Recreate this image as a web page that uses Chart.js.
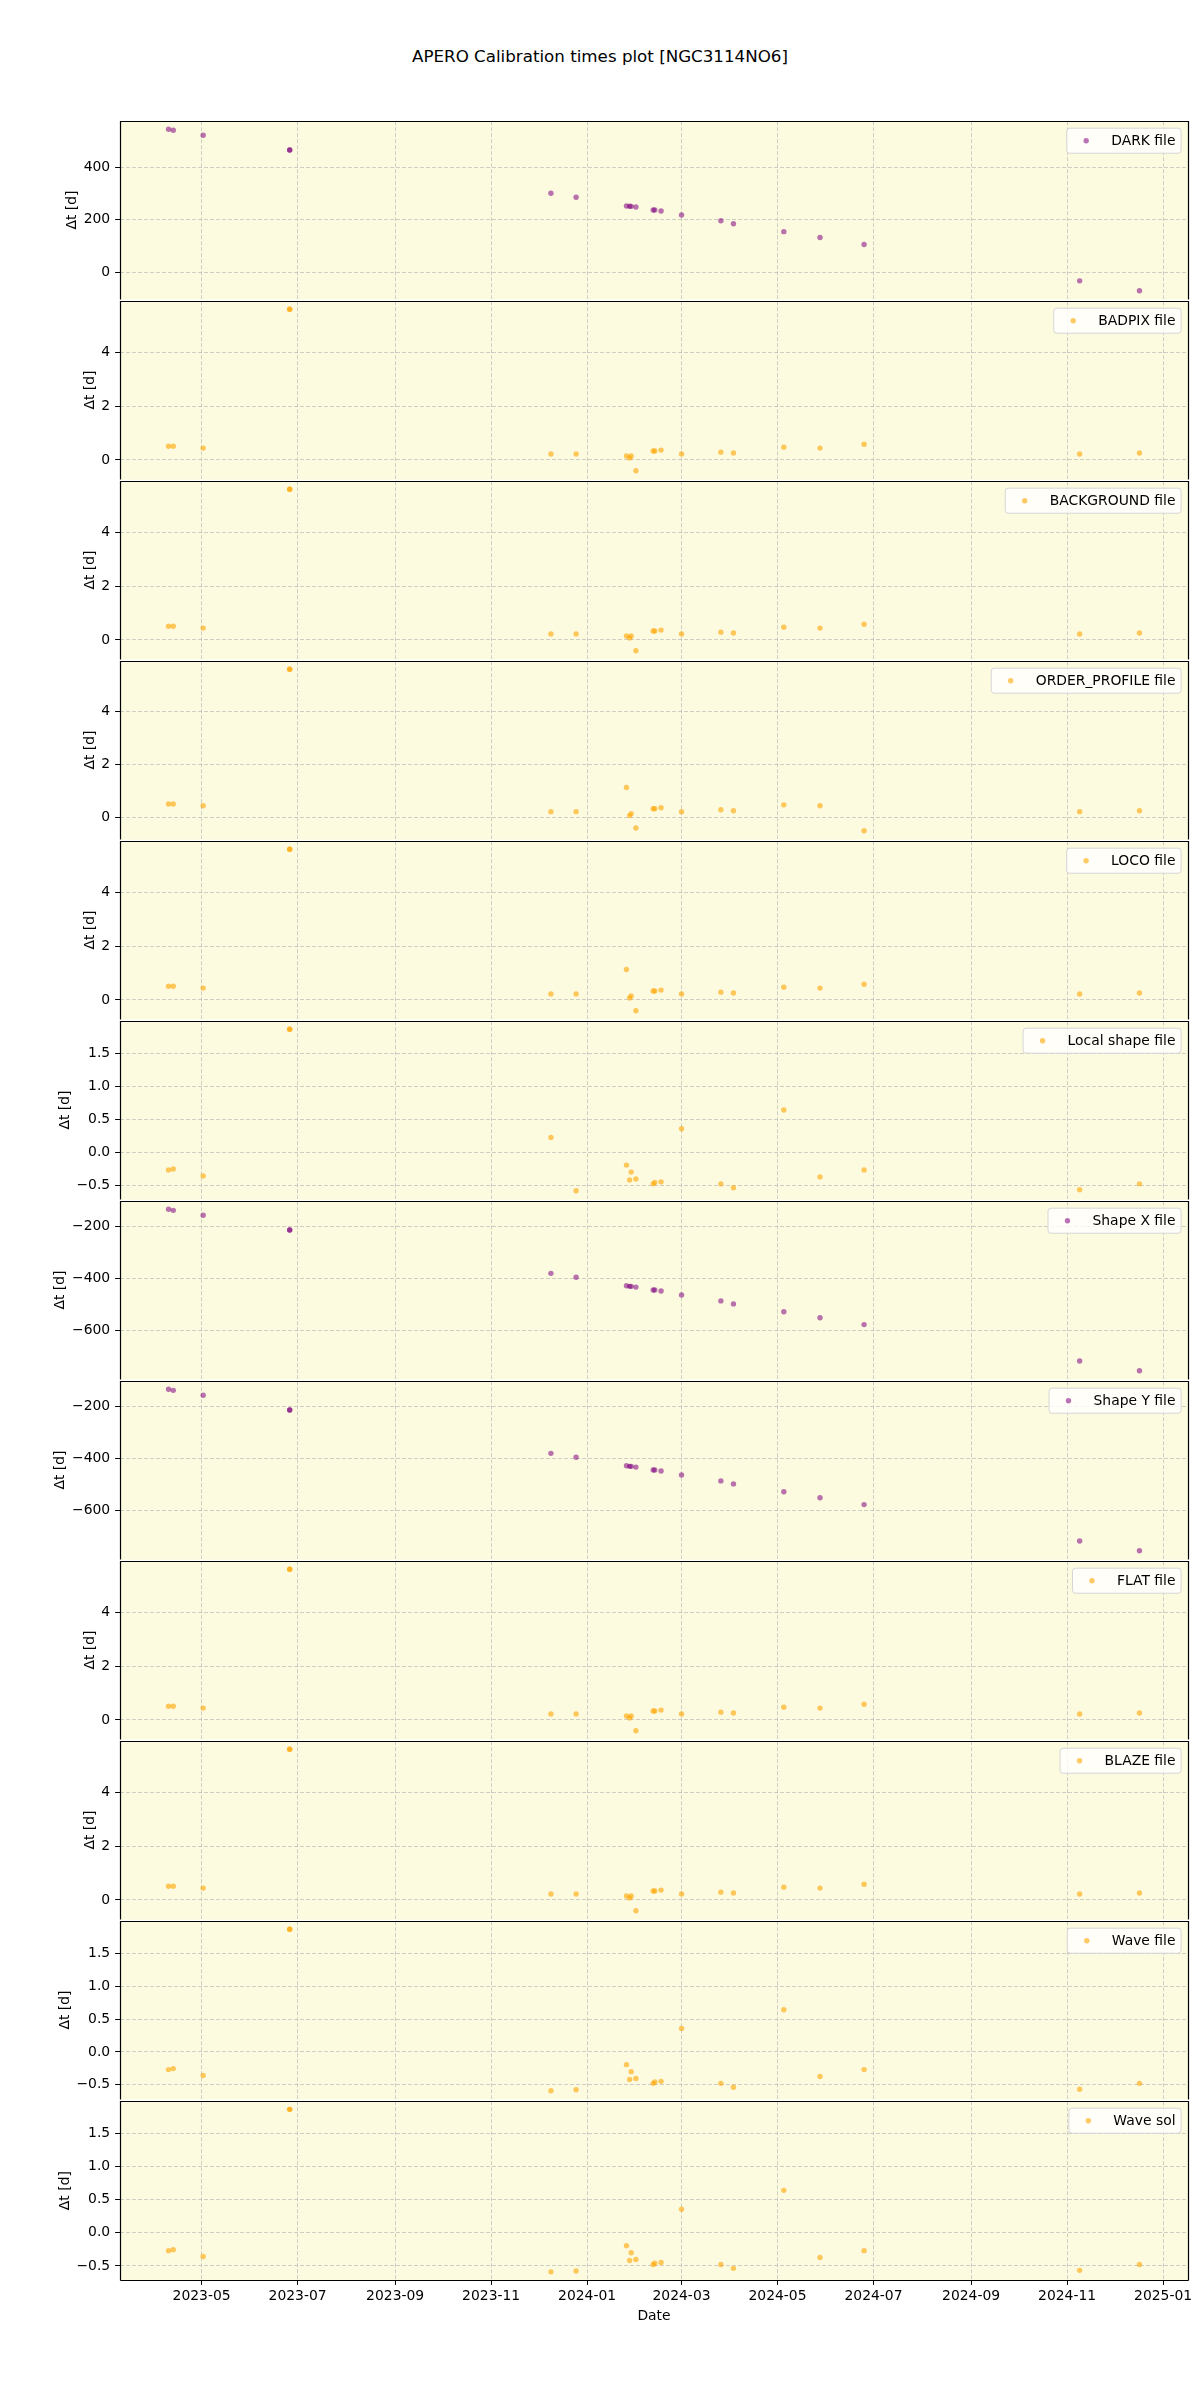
<!DOCTYPE html>
<html>
<head>
<meta charset="utf-8">
<script src="https://cdn.jsdelivr.net/npm/chart.js@4.4.1/dist/chart.umd.min.js"></script>
<style>
  body { margin: 0; background: #fff; }
  #page { position: relative; width: 1200px; height: 2400px; font-family: "DejaVu Sans", sans-serif; }
  #title { position: absolute; top: 46px; left: 0; width: 1200px; text-align: center; font-size: 16.7px; line-height: 20px; color: #000; }
  canvas { position: absolute; left: 0; }
</style>
</head>
<body>
<div id="page">
  <div id="title">APERO Calibration times plot [NGC3114NO6]</div>
</div>
<script>
// observation dates (one per point, same for every panel)
const dates = ['2023-04-10', '2023-04-13', '2023-05-02', '2023-06-26', '2023-06-26',
  '2023-12-09', '2023-12-25', '2024-01-26', '2024-01-28', '2024-01-29', '2024-02-01',
  '2024-02-12', '2024-02-13', '2024-02-17', '2024-03-01', '2024-03-26', '2024-04-03',
  '2024-05-05', '2024-05-28', '2024-06-25', '2024-11-09', '2024-12-17'];

const xTickLabels = ['2023-05', '2023-07', '2023-09', '2023-11', '2024-01', '2024-03',
  '2024-05', '2024-07', '2024-09', '2024-11', '2025-01'];

// delta t [d] for each calibration
const darkVals = [544.5, 540.7, 522, 465.6, 465.6, 300.4, 285.4, 251.6, 251, 250.5, 247.8,
  236.6, 236.6, 232.8, 217.8, 195.3, 184, 154, 131.4, 105.1, -33.8, -71.3];
const badpixVals = [0.51, 0.51, 0.44, 5.6, 5.6, 0.22, 0.22, 0.146, 0.07, 0.146, -0.40,
  0.33, 0.33, 0.366, 0.22, 0.29, 0.256, 0.476, 0.44, 0.585, 0.22, 0.256];
const backgroundVals = [0.51, 0.51, 0.44, 5.6, 5.6, 0.22, 0.22, 0.146, 0.07, 0.146, -0.40,
  0.33, 0.33, 0.366, 0.22, 0.29, 0.256, 0.476, 0.44, 0.585, 0.22, 0.256];
const orderProfileVals = [0.51, 0.51, 0.44, 5.6, 5.6, 0.22, 0.22, 1.13, 0.07, 0.146, -0.40,
  0.33, 0.33, 0.366, 0.22, 0.29, 0.256, 0.476, 0.44, -0.5, 0.22, 0.256];
const locoVals = [0.51, 0.51, 0.44, 5.6, 5.6, 0.22, 0.22, 1.13, 0.07, 0.146, -0.40,
  0.33, 0.33, 0.366, 0.22, 0.29, 0.256, 0.476, 0.44, 0.585, 0.22, 0.256];
const localShapeVals = [-0.269, -0.254, -0.358, 1.866, 1.866, 0.224, -0.582, -0.194, -0.418, -0.30, -0.403,
  -0.478, -0.458, -0.448, 0.358, -0.478, -0.537, 0.642, -0.373, -0.269, -0.567, -0.478];
const shapeXVals = [-136, -140, -158.6, -215, -215, -380.5, -395.5, -428, -430, -430, -433,
  -444, -444, -448, -463, -485.7, -497, -527, -550, -576, -715, -752];
const shapeYVals = [-136, -140, -158.6, -215, -215, -380.5, -395.5, -428, -430, -430, -433,
  -444, -444, -448, -463, -485.7, -497, -527, -550, -576, -715, -752];
const flatVals = [0.51, 0.51, 0.44, 5.6, 5.6, 0.22, 0.22, 0.146, 0.07, 0.146, -0.40,
  0.33, 0.33, 0.366, 0.22, 0.29, 0.256, 0.476, 0.44, 0.585, 0.22, 0.256];
const blazeVals = [0.51, 0.51, 0.44, 5.6, 5.6, 0.22, 0.22, 0.146, 0.07, 0.146, -0.40,
  0.33, 0.33, 0.366, 0.22, 0.29, 0.256, 0.476, 0.44, 0.585, 0.22, 0.256];
const waveFileVals = [-0.269, -0.254, -0.358, 1.866, 1.866, -0.59, -0.575, -0.194, -0.418, -0.30, -0.403,
  -0.478, -0.458, -0.448, 0.358, -0.478, -0.537, 0.642, -0.373, -0.269, -0.567, -0.478];
const waveSolVals = [-0.269, -0.254, -0.358, 1.866, 1.866, -0.59, -0.575, -0.194, -0.418, -0.30, -0.403,
  -0.478, -0.458, -0.448, 0.358, -0.478, -0.537, 0.642, -0.373, -0.269, -0.567, -0.478];

const PURPLE = 'rgba(128, 0, 128, 0.55)';
const ORANGE = 'rgba(255, 165, 0, 0.6)';
const GRID = 'rgba(176, 176, 176, 0.6)';

const panels = [
  { label: 'DARK file', vals: darkVals, color: PURPLE, step: 200 },
  { label: 'BADPIX file', vals: badpixVals, color: ORANGE, step: 2 },
  { label: 'BACKGROUND file', vals: backgroundVals, color: ORANGE, step: 2 },
  { label: 'ORDER_PROFILE file', vals: orderProfileVals, color: ORANGE, step: 2 },
  { label: 'LOCO file', vals: locoVals, color: ORANGE, step: 2 },
  { label: 'Local shape file', vals: localShapeVals, color: ORANGE, step: 0.5 },
  { label: 'Shape X file', vals: shapeXVals, color: PURPLE, step: 200 },
  { label: 'Shape Y file', vals: shapeYVals, color: PURPLE, step: 200 },
  { label: 'FLAT file', vals: flatVals, color: ORANGE, step: 2 },
  { label: 'BLAZE file', vals: blazeVals, color: ORANGE, step: 2 },
  { label: 'Wave file', vals: waveFileVals, color: ORANGE, step: 0.5 },
  { label: 'Wave sol', vals: waveSolVals, color: ORANGE, step: 0.5 }
];

Chart.defaults.font.family = '"DejaVu Sans", sans-serif';
Chart.defaults.font.size = 13.9;
Chart.defaults.color = '#000';

const FS = 13.9;
const M = 12;          // canvas overlap around each panel
const PANEL_H = 180;
const TOP = 120, LEFT = 120, RIGHT = 1188;

function fmt(v, step) {
  const s = step < 1 ? v.toFixed(1) : String(Math.round(v));
  return s.replace('-', '\u2212');
}

// yellow panel, black frame and matplotlib-like legend box
const panelDeco = {
  id: 'panelDeco',
  beforeDraw(chart) {
    const { ctx, chartArea: a } = chart;
    ctx.save();
    ctx.fillStyle = '#fcfbe0';
    ctx.fillRect(a.left, a.top, a.width, a.height + 1);
    ctx.restore();
  },
  afterDraw(chart, args, opts) {
    const { ctx, chartArea: a } = chart;
    const l = Math.round(a.left) + 0.5, r = Math.round(a.right) + 0.5;
    const t = Math.round(a.top) + 0.5, b = Math.round(a.bottom) + 0.5;
    ctx.save();
    ctx.strokeStyle = '#000';
    ctx.lineWidth = 1.2;
    ctx.beginPath();
    if (opts.last) {
      ctx.moveTo(l, b);
      ctx.lineTo(r, b);
    }
    ctx.moveTo(l, b);
    ctx.lineTo(l, t);
    ctx.lineTo(r, t);
    ctx.lineTo(r, b);
    ctx.stroke();

    ctx.font = FS + 'px "DejaVu Sans", sans-serif';
    const tw = ctx.measureText(opts.label).width;
    const w = tw + 3.6 * FS;
    const h = 1.8 * FS;
    const x = a.right - 0.5 * FS - w;
    const y = a.top + 0.5 * FS;
    ctx.beginPath();
    ctx.roundRect(x, y, w, h, 3);
    ctx.fillStyle = 'rgba(255, 255, 255, 0.8)';
    ctx.fill();
    ctx.strokeStyle = '#d6d6d6';
    ctx.lineWidth = 1;
    ctx.stroke();

    ctx.beginPath();
    ctx.arc(x + 1.4 * FS, y + h / 2, 2.7, 0, Math.PI * 2);
    ctx.fillStyle = opts.color;
    ctx.fill();

    ctx.fillStyle = '#000';
    ctx.textBaseline = 'middle';
    ctx.fillText(opts.label, x + 3.2 * FS, y + h / 2 + 0.5);
    ctx.restore();
  }
};

const xs = dates.map(d => Date.parse(d));
const xLo = Math.min(...xs), xHi = Math.max(...xs);
const xPad = (xHi - xLo) * 0.05;
const xTickVals = xTickLabels.map(s => Date.parse(s + '-01'));

const page = document.getElementById('page');

panels.forEach((p, i) => {
  const last = i === panels.length - 1;
  const h = PANEL_H + 2 * M + (last ? 70 : 0);
  const cv = document.createElement('canvas');
  cv.width = 1200;
  cv.height = h;
  cv.style.width = '1200px';
  cv.style.height = h + 'px';
  cv.style.top = (TOP + i * PANEL_H - M) + 'px';
  page.appendChild(cv);

  const lo = Math.min(...p.vals), hi = Math.max(...p.vals);
  const pad = (hi - lo) * 0.05;

  const gridOpts = {
    color: GRID,
    lineWidth: 1,
    tickLength: 4.9,
    tickColor: '#000',
    tickWidth: 1,
    tickBorderDash: []
  };

  const chart = new Chart(cv, {
    type: 'scatter',
    data: {
      datasets: [{
        label: p.label,
        data: xs.map((x, k) => ({ x: x, y: p.vals[k] })),
        backgroundColor: p.color,
        borderWidth: 0,
        pointRadius: 2.7,
        pointHoverRadius: 2.7
      }]
    },
    options: {
      responsive: false,
      animation: false,
      devicePixelRatio: 1,
      layout: { padding: { left: 0, right: 1200 - RIGHT, top: M, bottom: M } },
      plugins: {
        legend: { display: false },
        tooltip: { enabled: false },
        panelDeco: { label: p.label, color: p.color, last: last }
      },
      scales: {
        x: {
          type: 'linear',
          min: xLo - xPad,
          max: xHi + xPad,
          afterBuildTicks: s => { s.ticks = xTickVals.map(v => ({ value: v })); },
          ticks: {
            display: last,
            autoSkip: false,
            maxRotation: 0,
            padding: 3,
            callback: (v, k) => xTickLabels[k]
          },
          grid: Object.assign({}, gridOpts, { drawTicks: last }),
          border: { display: false, dash: [4, 2] },
          title: { display: last, text: 'Date', padding: { top: 0, bottom: 0 } }
        },
        y: {
          min: lo - pad,
          max: hi + pad,
          ticks: {
            stepSize: p.step,
            includeBounds: false,
            padding: 4.9,
            callback: v => fmt(v, p.step)
          },
          grid: Object.assign({}, gridOpts, { drawTicks: true }),
          border: { display: false, dash: [4, 2] },
          title: { display: true, text: '\u0394t [d]', padding: { top: 0, bottom: -2 } }
        }
      }
    },
    plugins: [panelDeco]
  });

  // pin the plot area to the same place as the reference axes
  for (let it = 0; it < 3; it++) {
    const a = chart.chartArea;
    const pd = chart.options.layout.padding;
    pd.left += LEFT - a.left;
    pd.right += a.right - RIGHT;
    pd.top += M - a.top;
    pd.bottom += a.bottom - (M + PANEL_H);
    chart.update();
  }
});
</script>
</body>
</html>
